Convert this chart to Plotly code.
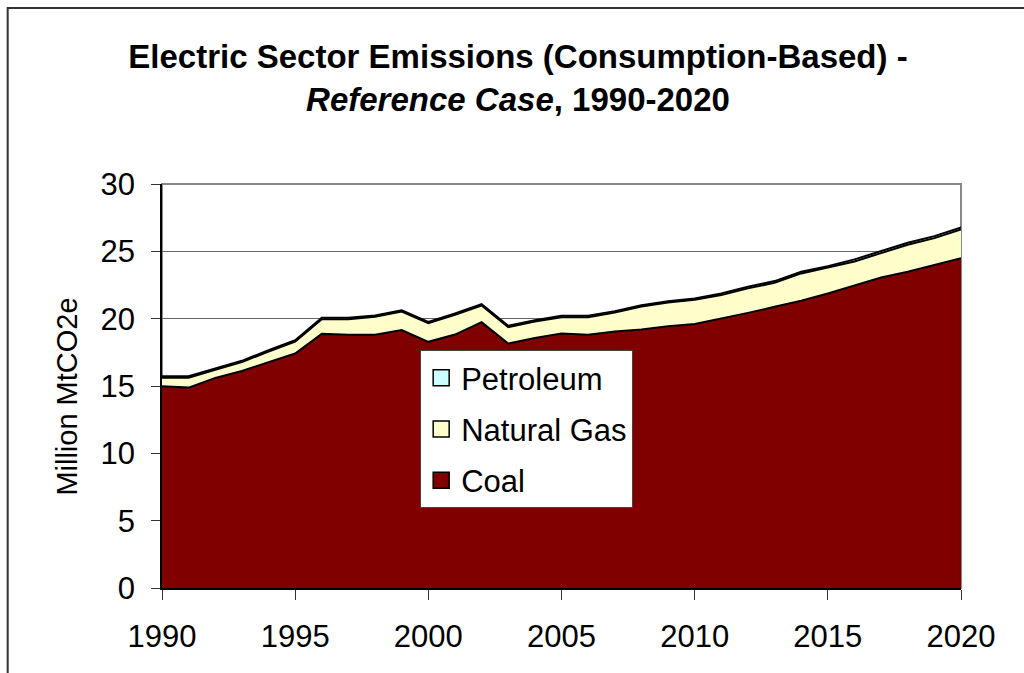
import plotly.graph_objects as go

years = list(range(1990, 2021))

coal = [14.98, 14.88, 15.60, 16.12, 16.77, 17.41, 18.87, 18.80, 18.80, 19.15,
        18.28, 18.82, 19.74, 18.15, 18.57, 18.90, 18.80, 19.05, 19.20, 19.44,
        19.61, 20.01, 20.43, 20.88, 21.33, 21.87, 22.44, 23.06, 23.48, 23.98,
        24.48]
natural_gas = [0.64, 0.74, 0.60, 0.65, 0.79, 0.89, 1.09, 1.16, 1.34, 1.38,
               1.38, 1.47, 1.24, 1.22, 1.22, 1.21, 1.31, 1.41, 1.70, 1.76,
               1.79, 1.74, 1.82, 1.79, 2.03, 1.91, 1.81, 1.81, 2.01, 2.00,
               2.15]
petroleum = [0.10, 0.10, 0.10, 0.10, 0.10, 0.10, 0.10, 0.10, 0.10, 0.10,
             0.10, 0.10, 0.10, 0.10, 0.10, 0.10, 0.10, 0.10, 0.10, 0.10,
             0.10, 0.12, 0.12, 0.12, 0.12, 0.12, 0.15, 0.15, 0.15, 0.15,
             0.15]

series_names = ["Coal", "Natural Gas", "Petroleum"]
series_colors = ["#800000", "#FFFFCC", "#CCFFFF"]
series_values = [coal, natural_gas, petroleum]

x_ticks = [1990, 1995, 2000, 2005, 2010, 2015, 2020]
y_ticks = [0, 5, 10, 15, 20, 25, 30]

FONT = "Liberation Sans, Arial, sans-serif"

fig = go.Figure()

for name, color, vals in zip(series_names, series_colors, series_values):
    fig.add_trace(go.Scatter(
        x=years, y=vals, name=name, stackgroup="one", mode="lines",
        line=dict(color="black", width=2),
        fillcolor=color, showlegend=False, hoverinfo="x+y+name",
    ))

# legend entries (square swatches), top to bottom: Petroleum, Natural Gas, Coal
for i, (name, color) in enumerate(zip(series_names[::-1], series_colors[::-1])):
    fig.add_trace(go.Scatter(
        x=[None], y=[None], mode="markers", name=name,
        legendgroup=name, legendrank=i + 1,
        marker=dict(symbol="square", size=16, color=color,
                    line=dict(color="black", width=1.5)),
        showlegend=True,
    ))

L, R, T, B = 161.5, 62.5, 184, 85
W, H = 1024, 673
pw, ph = W - L - R, H - T - B

def px_x(p):
    return (p - L) / pw

def px_y(p):
    return (H - B - p) / ph

fig.update_layout(
    width=W, height=H,
    margin=dict(l=L, r=R, t=T, b=B, autoexpand=False),
    paper_bgcolor="white", plot_bgcolor="white",
    font=dict(family=FONT, color="black", size=31),
    title=dict(
        text="<b>Electric Sector Emissions (Consumption-Based) -<br><i>Reference Case</i>, 1990-2020</b>",
        font=dict(family=FONT, size=33, color="black"),
        x=518 / W, xref="container", xanchor="center",
        y=1 - 68 / H, yref="container", yanchor="top",
    ),
    xaxis=dict(
        range=[1990, 2020], tickvals=x_ticks, ticktext=[str(v) for v in x_ticks],
        ticks="outside", ticklen=10, tickcolor="#333333", tickwidth=1,
        showline=True, linecolor="black", linewidth=1.5,
        showgrid=False, zeroline=False, ticklabelstandoff=10,
        tickfont=dict(size=31, family=FONT, color="black"),
    ),
    yaxis=dict(
        range=[0, 30], tickvals=y_ticks,
        ticks="outside", ticklen=9, tickcolor="#333333", tickwidth=1,
        showline=True, linecolor="black", linewidth=1.5,
        showgrid=True, gridcolor="#666666", gridwidth=1, zeroline=False,
        ticklabelstandoff=10,
        tickfont=dict(size=31, family=FONT, color="black"),
    ),
    legend=dict(
        x=px_x(420), y=px_y(350), xanchor="left", yanchor="top",
        bgcolor="white", bordercolor="#444444", borderwidth=1,
        font=dict(size=31, family=FONT, color="black"),
        traceorder="grouped", tracegroupgap=8,
        itemsizing="trace",
    ),
    annotations=[
        dict(text="Million MtCO2e", textangle=-90, showarrow=False,
             xref="paper", yref="paper", x=px_x(66), y=px_y(397),
             xanchor="center", yanchor="middle",
             font=dict(size=29, family=FONT, color="black")),
    ],
    shapes=[
        dict(type="rect", xref="paper", yref="paper",
             x0=0, x1=1, y0=0, y1=1, layer="below",
             line=dict(color="#888888", width=2), fillcolor="rgba(0,0,0,0)"),
        dict(type="rect", xref="paper", yref="paper",
             x0=px_x(7), x1=px_x(1100), y0=px_y(760), y1=px_y(8),
             layer="above", line=dict(color="#333333", width=2),
             fillcolor="rgba(0,0,0,0)"),
    ],
)

fig.write_html("out.html")
